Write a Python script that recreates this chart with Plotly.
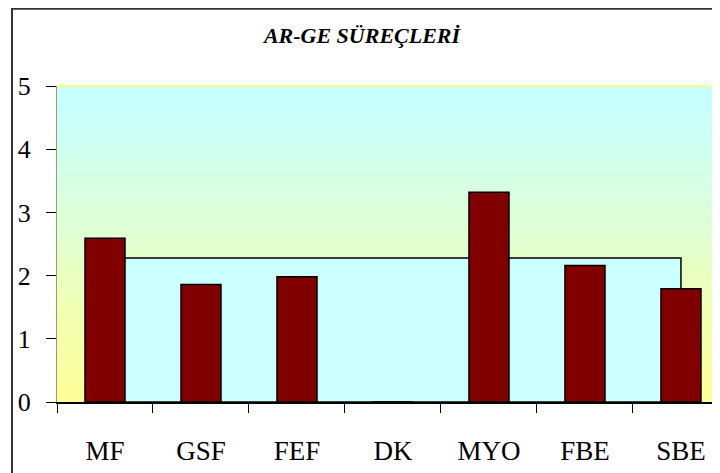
import plotly.graph_objects as go

categories = ["MF", "GSF", "FEF", "DK", "MYO", "FBE", "SBE"]
values = [2.59, 1.86, 1.98, 0.0, 3.32, 2.16, 1.79]
average = [2.28] * len(categories)
y_ticks = [0, 1, 2, 3, 4, 5]
title_text = "AR-GE SÜREÇLERİ"

FONT = "Liberation Serif"
X_RANGE = [-0.5, 6.49]
Y_RANGE = [0, 5]

# the page body has an 8px margin, so figure coordinates are page coordinates - 8
W, H = 720, 473
L, T = 49, 78
PLOT_BOTTOM = 394.3
PLOT_W = W - L
PLOT_H = PLOT_BOTTOM - T

fig = go.Figure()

# background gradient of the plot area (main linear axes, hidden)
fig.add_trace(go.Scatter(
    x=[X_RANGE[0], X_RANGE[1], X_RANGE[1], X_RANGE[0], X_RANGE[0]],
    y=[Y_RANGE[0], Y_RANGE[0], Y_RANGE[1], Y_RANGE[1], Y_RANGE[0]],
    mode="none", fill="toself", hoverinfo="skip", showlegend=False,
    fillgradient=dict(type="vertical",
                      colorscale=[[0, "#FFFF99"], [0.3, "#F0FFB4"],
                                  [0.6, "#DCFFDA"], [0.85, "#CCFFF6"], [1, "#C6FFFF"]]),
    xaxis="x", yaxis="y",
))

# average area polygon (closed)
ax = [categories[0]] + categories + [categories[-1], categories[0]]
ay = [0] + average + [0, 0]
fig.add_trace(go.Scatter(
    x=ax, y=ay, mode="lines", fill="toself", fillcolor="#CCFFFF",
    line=dict(color="black", width=1.5), hoverinfo="skip", showlegend=False,
    xaxis="x2", yaxis="y2",
))

# bars
fig.add_trace(go.Bar(
    x=categories, y=values, width=0.417,
    marker=dict(color="#800000", line=dict(color="black", width=1.5)),
    showlegend=False, xaxis="x3", yaxis="y3",
))

hidden = dict(showgrid=False, zeroline=False, showticklabels=False, ticks="", showline=False)

fig.update_layout(
    width=W, height=H,
    margin=dict(l=L, r=0, t=T, b=H - PLOT_BOTTOM, autoexpand=False),
    paper_bgcolor="white", plot_bgcolor="white",
    font=dict(family=FONT, color="black"),
    title=dict(text="<b><i>" + title_text + "</i></b>", x=(362 - 8) / W, xanchor="center",
               xref="container", y=1 - 27 / H, yref="container", yanchor="middle",
               font=dict(family=FONT, size=22, color="black")),
    xaxis=dict(range=X_RANGE, **hidden),
    yaxis=dict(range=Y_RANGE, **hidden),
    xaxis2=dict(type="category", categoryorder="array", categoryarray=categories,
                overlaying="x", range=X_RANGE, showgrid=False, zeroline=False,
                tickson="boundaries", ticks="outside", ticklen=9, tickcolor="black",
                tickwidth=1, showline=True, linecolor="black", linewidth=1.5,
                tickfont=dict(family=FONT, size=27, color="black"),
                ticklabelstandoff=24),
    yaxis2=dict(overlaying="y", range=Y_RANGE, tickvals=y_ticks, showgrid=False,
                zeroline=False, ticks="outside", ticklen=10, tickcolor="black",
                tickwidth=1, showline=True, linecolor="#9a9a70", linewidth=1,
                tickfont=dict(family=FONT, size=26, color="black"),
                ticklabelstandoff=10),
    xaxis3=dict(type="category", categoryorder="array", categoryarray=categories,
                overlaying="x", range=X_RANGE, **hidden),
    yaxis3=dict(overlaying="y", range=Y_RANGE, **hidden),
    shapes=[
        # plot area top edge (yellow)
        dict(type="line", xref="paper", yref="paper", x0=0, x1=1, y0=1, y1=1,
             line=dict(color="#FFFF88", width=2)),
        # outer chart border
        dict(type="rect", xref="paper", yref="paper",
             x0=(4 - L) / PLOT_W, x1=1.05, y0=-0.3, y1=1 + (T - 0.8) / PLOT_H,
             line=dict(color="#333333", width=2), fillcolor="rgba(0,0,0,0)"),
    ],
)

fig.write_html("out.html")
